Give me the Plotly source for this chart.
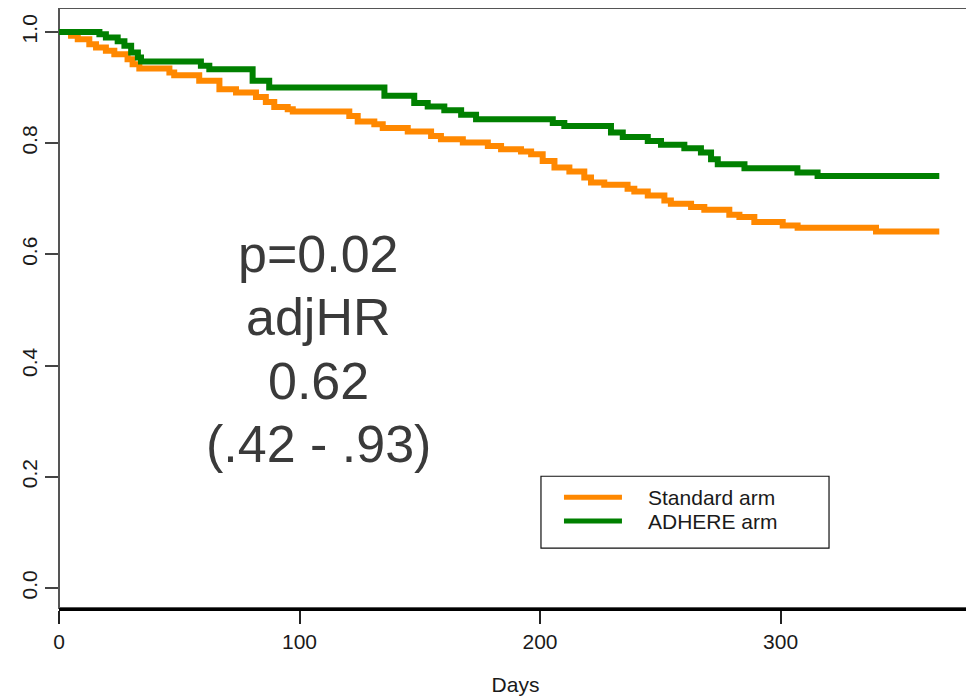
import plotly.graph_objects as go

# ---- data ----
standard_days = [0, 5, 7.8, 12.6, 15.4, 19.5, 23, 28.5, 30.6, 33.4,
                 45.9, 47.9, 58.3, 66.7, 73.6, 81.9, 86, 89.5, 95.1, 97.2,
                 120.7, 124.2, 131.1, 134.6, 145, 154.7, 158.8, 167.9, 178.3, 183.8,
                 192.1, 196.3, 201.1, 206, 212.2, 218.4, 221.2, 226.7, 236.4, 239.2,
                 244.8, 251.7, 254.4, 262.8, 268.3, 278.7, 282.9, 289.1, 300.9, 307.1,
                 339.7, 366]
standard_surv = [1.0, 0.993, 0.987, 0.978, 0.972, 0.966, 0.960, 0.951, 0.942, 0.934,
                 0.927, 0.922, 0.912, 0.897, 0.891, 0.883, 0.874, 0.865, 0.861, 0.857,
                 0.849, 0.839, 0.834, 0.827, 0.821, 0.813, 0.807, 0.801, 0.795, 0.789,
                 0.785, 0.780, 0.768, 0.756, 0.749, 0.738, 0.729, 0.725, 0.718, 0.713,
                 0.706, 0.697, 0.691, 0.685, 0.680, 0.671, 0.667, 0.658, 0.652, 0.648,
                 0.641, 0.641]

adhere_days = [0, 16.8, 19.5, 24.4, 27.2, 30, 32.8, 34.1, 59, 62.5,
               80.5, 87.4, 135.3, 147.7, 153.3, 160.2, 167.2, 173.4, 205.3, 210.1,
               229.5, 234.4, 244.8, 250.3, 260, 266.9, 271.1, 273.9, 285, 307,
               315.4, 366]
adhere_surv = [1.0, 0.996, 0.990, 0.983, 0.975, 0.963, 0.954, 0.947, 0.939, 0.933,
               0.912, 0.900, 0.885, 0.872, 0.866, 0.859, 0.851, 0.843, 0.836, 0.831,
               0.819, 0.811, 0.804, 0.797, 0.791, 0.783, 0.771, 0.762, 0.755, 0.747,
               0.741, 0.741]

x_ticks = [0, 100, 200, 300]
y_ticks = [0.0, 0.2, 0.4, 0.6, 0.8, 1.0]
y_tick_labels = ["0.0", "0.2", "0.4", "0.6", "0.8", "1.0"]
series_names = ["Standard arm", "ADHERE arm"]
stat_lines = ["p=0.02", "adjHR", "0.62", "(.42 - .93)"]

ORANGE = "#FF8800"
GREEN = "#008000"
FONT = "Liberation Sans, Arial, sans-serif"

fig = go.Figure()
fig.add_trace(go.Scatter(x=standard_days, y=standard_surv, mode="lines",
                         line=dict(color=ORANGE, width=6, shape="hv"),
                         name=series_names[0], showlegend=False))
fig.add_trace(go.Scatter(x=adhere_days, y=adhere_surv, mode="lines",
                         line=dict(color=GREEN, width=6, shape="hv"),
                         name=series_names[1], showlegend=False))

# statistics text block
stat_y = [0.601, 0.488, 0.372, 0.2585]
for txt, yy in zip(stat_lines, stat_y):
    fig.add_annotation(x=108, y=yy, xref="x", yref="y", text=txt, showarrow=False,
                       xanchor="center", yanchor="middle",
                       font=dict(family=FONT, size=52, color="#3a3a3a"))

# frame (grey) — bottom axis line drawn separately in black
fig.add_shape(type="rect", xref="paper", yref="paper", x0=0, x1=1, y0=0, y1=1,
              line=dict(color="#555555", width=2), layer="below")

# manual legend box
fig.add_shape(type="rect", xref="paper", yref="paper",
              x0=0.5279, x1=0.8434, y0=0.0998, y1=0.2196,
              line=dict(color="#111111", width=1.2), fillcolor="white")
leg_colors = [ORANGE, GREEN]
leg_y = [0.1847, 0.1448]
for name, col, yy in zip(series_names, leg_colors, leg_y):
    fig.add_shape(type="line", xref="paper", yref="paper",
                  x0=0.5531, x1=0.6166, y0=yy, y1=yy,
                  line=dict(color=col, width=5))
    fig.add_annotation(x=0.6429, y=yy, xref="paper", yref="paper", text=name,
                       showarrow=False, xanchor="left", yanchor="middle",
                       font=dict(family=FONT, size=21, color="#1a1a1a"))

# the page body adds an 8px offset, so the figure is sized to fit the window
fig.update_layout(
    width=966, height=688,
    margin=dict(l=51, r=2, t=0, b=88, autoexpand=False),
    paper_bgcolor="white", plot_bgcolor="white",
    font=dict(family=FONT, size=21, color="#1a1a1a"),
    showlegend=False,
)
fig.update_xaxes(range=[0, 379.6], tickvals=x_ticks, ticks="outside", ticklen=13,
                 tickwidth=1.5, tickcolor="#222222", showgrid=False, zeroline=False,
                 showline=True, linecolor="#000000", linewidth=3, automargin=False,
                 tickfont=dict(family=FONT, size=21, color="#1a1a1a"),
                 title=dict(text="Days", standoff=27,
                            font=dict(family=FONT, size=21, color="#1a1a1a")))
fig.update_yaxes(range=[-0.036, 1.043], tickvals=y_ticks, ticktext=y_tick_labels,
                 ticks="outside", ticklen=13, tickwidth=1.5, tickcolor="#444444",
                 tickangle=-90, showgrid=False, zeroline=False, showline=False,
                 automargin=False,
                 tickfont=dict(family=FONT, size=21, color="#1a1a1a"))

fig.write_html("out.html")
